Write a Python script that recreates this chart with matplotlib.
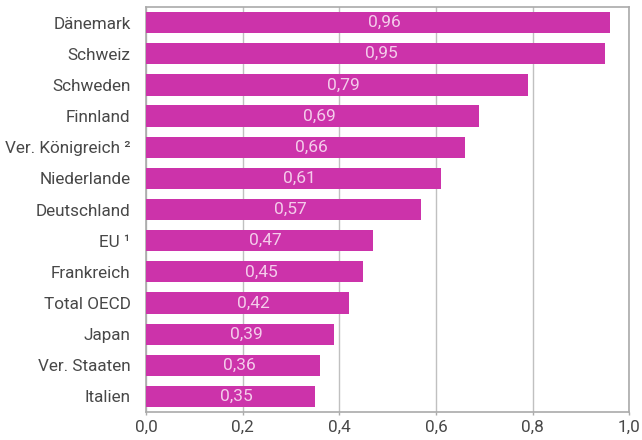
import matplotlib
matplotlib.use("Agg")
import matplotlib.pyplot as plt

categories = ["Dänemark", "Schweiz", "Schweden", "Finnland", "Ver. Königreich ²",
              "Niederlande", "Deutschland", "EU ¹", "Frankreich", "Total OECD",
              "Japan", "Ver. Staaten", "Italien"]
values = [0.96, 0.95, 0.79, 0.69, 0.66, 0.61, 0.57, 0.47, 0.45, 0.42, 0.39, 0.36, 0.35]
xticks = [0.0, 0.2, 0.4, 0.6, 0.8, 1.0]

plt.rcParams['font.family'] = ['Roboto', 'DejaVu Sans']

fig = plt.figure(figsize=(6.42, 4.40), dpi=100)
ax = fig.add_axes([0.2274, 0.0636, 0.7526, 0.9204])

pos = list(range(len(categories)))
ax.barh(pos, values, height=0.68, color="#CC33AA", zorder=3)
for p, v in zip(pos, values):
    ax.annotate(f"{v:.2f}".replace(".", ","), xy=(v / 2, p), xytext=(4.5, 0),
                textcoords="offset points", ha="center", va="center",
                color="#F4CCEB", fontsize=12.5, fontweight="normal", zorder=4)

ax.set_ylim(len(categories) - 0.5, -0.5)
ax.set_xlim(0, 1.0)
ax.set_yticks(pos)
ax.set_yticklabels(categories, fontsize=12.3, color="#484848")
ax.set_xticks(xticks)
ax.set_xticklabels([f"{t:.1f}".replace(".", ",") for t in xticks], fontsize=12.3,
                   color="#484848")
ax.tick_params(axis="y", length=0, pad=11)
ax.tick_params(axis="x", length=2.5, color="#AAAAAA", width=1, pad=3)
ax.grid(axis="x", color="#C0C0C0", linewidth=1, zorder=0)
for s in ax.spines.values():
    s.set_color("#AAAAAA")
    s.set_linewidth(1.2)

fig.savefig("out.png", dpi=100)
